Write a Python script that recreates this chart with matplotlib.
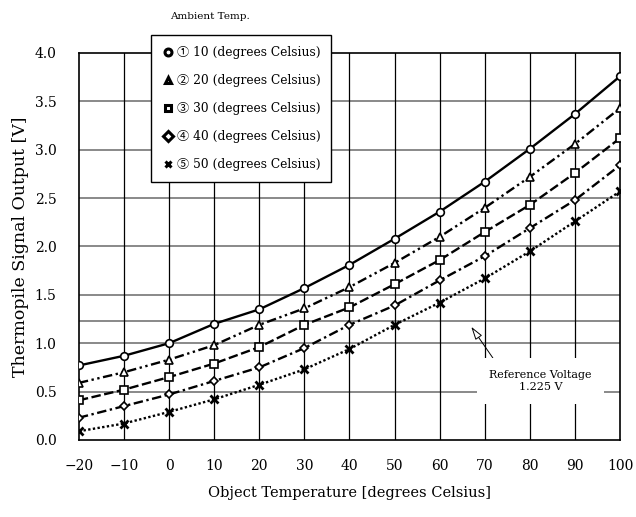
import matplotlib
matplotlib.use("Agg")
import matplotlib.pyplot as plt

plt.rcParams["font.family"] = ["DejaVu Serif", "Noto Sans CJK JP", "DejaVu Sans"]

# data
object_temp = [-20, -10, 0, 10, 20, 30, 40, 50, 60, 70, 80, 90, 100]
out_10 = [0.77, 0.87, 1.00, 1.20, 1.35, 1.57, 1.81, 2.08, 2.36, 2.67, 3.01, 3.37, 3.76]
out_20 = [0.59, 0.70, 0.83, 0.98, 1.19, 1.36, 1.58, 1.83, 2.10, 2.40, 2.72, 3.06, 3.43]
out_30 = [0.41, 0.52, 0.65, 0.79, 0.96, 1.19, 1.37, 1.61, 1.86, 2.15, 2.43, 2.76, 3.12]
out_40 = [0.23, 0.35, 0.47, 0.61, 0.75, 0.95, 1.19, 1.39, 1.65, 1.90, 2.19, 2.48, 2.84]
out_50 = [0.09, 0.17, 0.29, 0.42, 0.57, 0.73, 0.94, 1.19, 1.42, 1.67, 1.95, 2.26, 2.57]

series_labels = ["\u2460 10 (degrees Celsius)", "\u2461 20 (degrees Celsius)",
                 "\u2462 30 (degrees Celsius)", "\u2463 40 (degrees Celsius)",
                 "\u2464 50 (degrees Celsius)"]
ref_voltage = 1.225
y_ticks = [0.0, 0.5, 1.0, 1.5, 2.0, 2.5, 3.0, 3.5, 4.0]

styles = [
    ("o", "-"),
    ("^", (0, (4, 1.5, 1, 1.5, 1, 1.5))),
    ("s", (0, (4, 1.5))),
    ("D", (0, (4, 1.5, 1, 1.5))),
    ("x", (0, (1, 1))),
]
msizes = [5.5, 5.5, 5.5, 4.5, 6]

fig = plt.figure(figsize=(6.36, 5.17), dpi=100)
ax = fig.add_axes([0.124, 0.149, 0.851, 0.7485])

# grid: gray horizontals (incl. reference voltage), black verticals
for yv in y_ticks[1:-1] + [ref_voltage]:
    ax.axhline(yv, color="#808080", lw=1.3, zorder=1)
for xv in object_temp[1:-1]:
    ax.axvline(xv, color="black", lw=0.9, zorder=1)

handles = []
for vals, (mk, ls), ms, lab in zip([out_10, out_20, out_30, out_40, out_50],
                                   styles, msizes, series_labels):
    ax.plot(object_temp, vals, color="black", ls=ls, lw=1.7, zorder=3)
    ax.plot(object_temp, vals, ls="none", marker=mk, ms=ms, mfc="white",
            mec="black", mew=2.0 if mk == "x" else 1.2, zorder=4)
    h, = ax.plot([], [], ls="none", marker=mk, ms=5, mfc="white",
                 mec="black", mew=2.2, label=lab)
    handles.append(h)

ax.set_xlim(-20, 100)
ax.set_ylim(0, 4.0)
ax.set_xticks(object_temp)
ax.set_yticks(y_ticks)
ax.set_yticklabels([f"{v:.1f}" for v in y_ticks])
ax.tick_params(length=0, labelsize=10)
ax.tick_params(axis="x", pad=14)
ax.tick_params(axis="y", pad=16)
for sp in ax.spines.values():
    sp.set_linewidth(1.2)
ax.set_xlabel("Object Temperature [degrees Celsius]", fontsize=10.5, labelpad=9)
ax.set_ylabel("Thermopile Signal Output [V]", fontsize=12.5, labelpad=4)

ax.annotate("Reference Voltage\n1.225 V", xy=(67, 1.17), xytext=(82.3, 0.61),
            ha="center", va="center", fontsize=8, zorder=6,
            bbox=dict(boxstyle="square,pad=1.1", fc="white", ec="none"),
            arrowprops=dict(arrowstyle="-|>,head_length=1.0,head_width=0.3",
                            fc="white", ec="black", lw=0.7,
                            shrinkA=0, shrinkB=0,
                            relpos=(0.12, 1.0)))

leg = fig.legend(handles=handles, loc="upper left",
                 bbox_to_anchor=(0.2374, 0.932), fontsize=8.8,
                 labelspacing=1.22, handletextpad=0.2, handlelength=1.0,
                 borderpad=0.9, frameon=True, fancybox=False,
                 framealpha=1, edgecolor="black", borderaxespad=0)
leg.get_frame().set_linewidth(1.0)
fig.text(0.33, 0.968, "Ambient Temp.", fontsize=7.5, ha="center", va="center")

fig.savefig("out.png", dpi=100)
